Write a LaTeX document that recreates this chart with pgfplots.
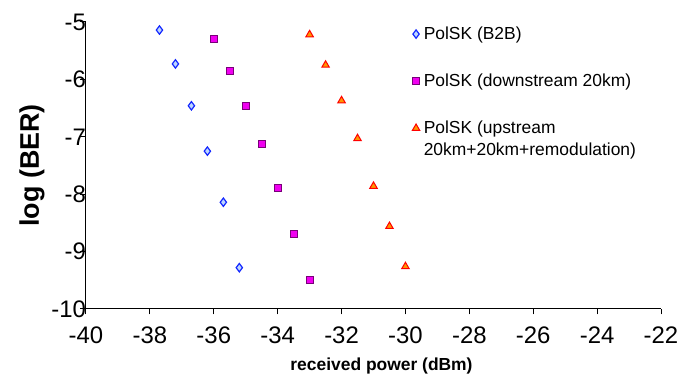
\documentclass[border=0pt]{standalone}
\usepackage{pgfplots}
\pgfplotsset{compat=1.18}
\usepackage{fontspec}
\setmainfont{Liberation Sans}
\definecolor{mkblue}{RGB}{20,40,255}
\definecolor{mkfillblue}{RGB}{190,215,255}
\definecolor{mkmag}{RGB}{240,0,240}
\definecolor{mkpurp}{RGB}{120,0,120}
\definecolor{mkorange}{RGB}{255,150,0}
\definecolor{mkred}{RGB}{255,0,0}
\begin{document}
\begin{tikzpicture}
\begin{axis}[name=ax, scale only axis, width=575bp, height=287bp,
 xmin=-40, xmax=-22, ymin=-10, ymax=-5,
 axis x line=bottom, axis y line=left,
 axis line style={-, line width=1bp, black},
 xtick={-40,-38,-36,-34,-32,-30,-28,-26,-24,-22},
 ytick={-10,-9,-8,-7,-6,-5},
 xticklabels={-40,-38,-36,-34,-32,-30,-28,-26,-24,-22},
 yticklabels={-10,-9,-8,-7,-6,-5},
 tick align=outside, major tick length=5.5bp,
 tick style={line width=1bp, black},
 ticklabel style={font=\fontsize{24}{28}\selectfont},
 xticklabel style={yshift=-9bp},
 yticklabel style={xshift=9bp},
 xlabel={received power (dBm)}, ylabel={log (BER)},
 xlabel style={font=\bfseries\fontsize{17.5}{20}\selectfont, yshift=-7bp, xshift=8bp},
 ylabel style={font=\bfseries\fontsize{27}{30}\selectfont, yshift=0bp},
 legend image code/.code={\draw[#1] plot coordinates {(0bp,0bp)};},
 legend style={draw=none, fill=none, at={(0.562,0.997)}, anchor=north west,
   font=\fontsize{17.5}{22}\selectfont, row sep=29bp, column sep=2bp,
   cells={anchor=west, align=left}},
]
\addplot[only marks, mark=diamond*, mark size=4.2bp,
  mark options={draw=mkblue, fill=mkfillblue, line width=1.2bp}]
  coordinates {(-37.7,-5.14) (-37.2,-5.73) (-36.7,-6.46) (-36.2,-7.25) (-35.7,-8.14) (-35.2,-9.28)};
\addlegendentry{PolSK (B2B)}
\addplot[only marks, mark=square*, mark size=3.6bp,
  mark options={draw=mkpurp, fill=mkmag, line width=0.8bp}]
  coordinates {(-36.0,-5.29) (-35.5,-5.85) (-35.0,-6.46) (-34.5,-7.12) (-34.0,-7.89) (-33.5,-8.69) (-33.0,-9.50)};
\addlegendentry{PolSK (downstream 20km)}
\addplot[only marks, mark=triangle*, mark size=4.3bp,
  mark options={draw=mkred, fill=mkorange, line width=1bp},
  legend image post style={yshift=11bp}]
  coordinates {(-33.0,-5.22) (-32.5,-5.75) (-32.0,-6.37) (-31.5,-7.03) (-31.0,-7.86) (-30.5,-8.56) (-30.0,-9.26)};
\addlegendentry{PolSK (upstream\\20km+20km+remodulation)}
\end{axis}
\pgfresetboundingbox
\path[use as bounding box] ([shift={(-86bp,-66bp)}]ax.south west) rectangle ([shift={(32bp,22bp)}]ax.north east);
\end{tikzpicture}
\end{document}
